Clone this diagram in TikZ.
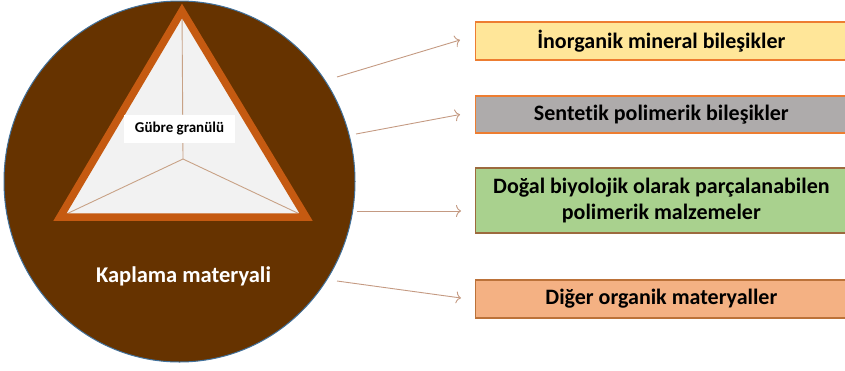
\documentclass[tikz,border=0pt]{standalone}
\usepackage{fontspec}
\setmainfont[Ligatures=NoCommon]{Carlito}
\usetikzlibrary{arrows.meta,shapes.geometric}
\definecolor{coatbrown}{HTML}{663300}
\definecolor{rimblue}{HTML}{41719C}
\definecolor{triorange}{HTML}{C55A11}
\definecolor{trifill}{HTML}{F2F2F2}
\definecolor{spoke}{HTML}{C8A286}
\definecolor{arrowtan}{HTML}{C49A82}
\definecolor{edgeorange}{HTML}{ED7D31}
\definecolor{edgebrown}{HTML}{9C6A3E}
\definecolor{fillyellow}{HTML}{FFE699}
\definecolor{fillgray}{HTML}{AEABAB}
\definecolor{fillgreen}{HTML}{A9D18E}
\definecolor{fillsalmon}{HTML}{F4B183}
\tikzset{
  catbox/.style={draw=edgeorange, line width=1.2pt, rectangle, anchor=west,
    minimum width=371.5pt, inner sep=0pt, align=center,
    font=\bfseries\fontsize{22}{26.5}\selectfont, text=black},
  arr/.style={draw=arrowtan, line width=0.9pt, -{To[length=5pt,width=12pt]}},
  spokeline/.style={draw=spoke, line width=0.9pt},
}
\begin{document}
\begin{tikzpicture}[x=1pt,y=-1pt]
\useasboundingbox (0,0) rectangle (845,370);
\clip (0,0) rectangle (845,370);
% coating shell
\node[ellipse, draw=rimblue, fill=coatbrown, line width=1pt,
  minimum width=351pt, minimum height=361pt, inner sep=0pt] (shell) at (179.5,181.5) {};
% fertilizer granule core
\coordinate (top) at (182,11);
\coordinate (bl) at (60,217);
\coordinate (br) at (306,217);
\coordinate (mid) at (183,159);
\fill[trifill] (top) -- (bl) -- (br) -- cycle;
\draw[spokeline] (mid) -- (top);
\draw[spokeline] (mid) -- (bl);
\draw[spokeline] (mid) -- (br);
\draw[triorange, line width=7.5pt, line join=miter] (top) -- (bl) -- (br) -- cycle;
\node[fill=white, minimum width=111pt, minimum height=28pt, inner sep=0pt,
  font=\bfseries\fontsize{15}{17}\selectfont] (core) at (179.5,129) {Gübre granülü};
\node[text=white, font=\bfseries\fontsize{22.5}{26}\selectfont] (coat) at (183.5,276) {Kaplama materyali};
% material categories
\node[catbox, fill=fillyellow, minimum height=38pt] (b1) at (475,41) {İnorganik mineral bileşikler};
\node[catbox, fill=fillgray, minimum height=37pt] (b2) at (475,114.5) {Sentetik polimerik bileşikler};
\node[catbox, fill=fillgreen, draw=edgebrown, minimum height=65pt] (b3) at (475,200.5) {Doğal biyolojik olarak parçalanabilen\\polimerik malzemeler};
\node[catbox, fill=fillsalmon, draw=edgebrown!60!edgeorange, minimum height=38pt] (b4) at (475,299) {Diğer organik materyaller};
% connectors
\coordinate (s1) at (337,77);
\coordinate (s2) at (356,134);
\coordinate (s3) at (357,211);
\coordinate (s4) at (337,281);
\draw[arr] (s1) -- ([xshift=-15pt,yshift=1pt]b1.west);
\draw[arr] (s2) -- ([xshift=-15pt]b2.west);
\draw[arr] (s3) -- ([xshift=-14pt,yshift=-10.5pt]b3.west);
\draw[arr] (s4) -- ([xshift=-14pt,yshift=1pt]b4.west);
\end{tikzpicture}
\end{document}
